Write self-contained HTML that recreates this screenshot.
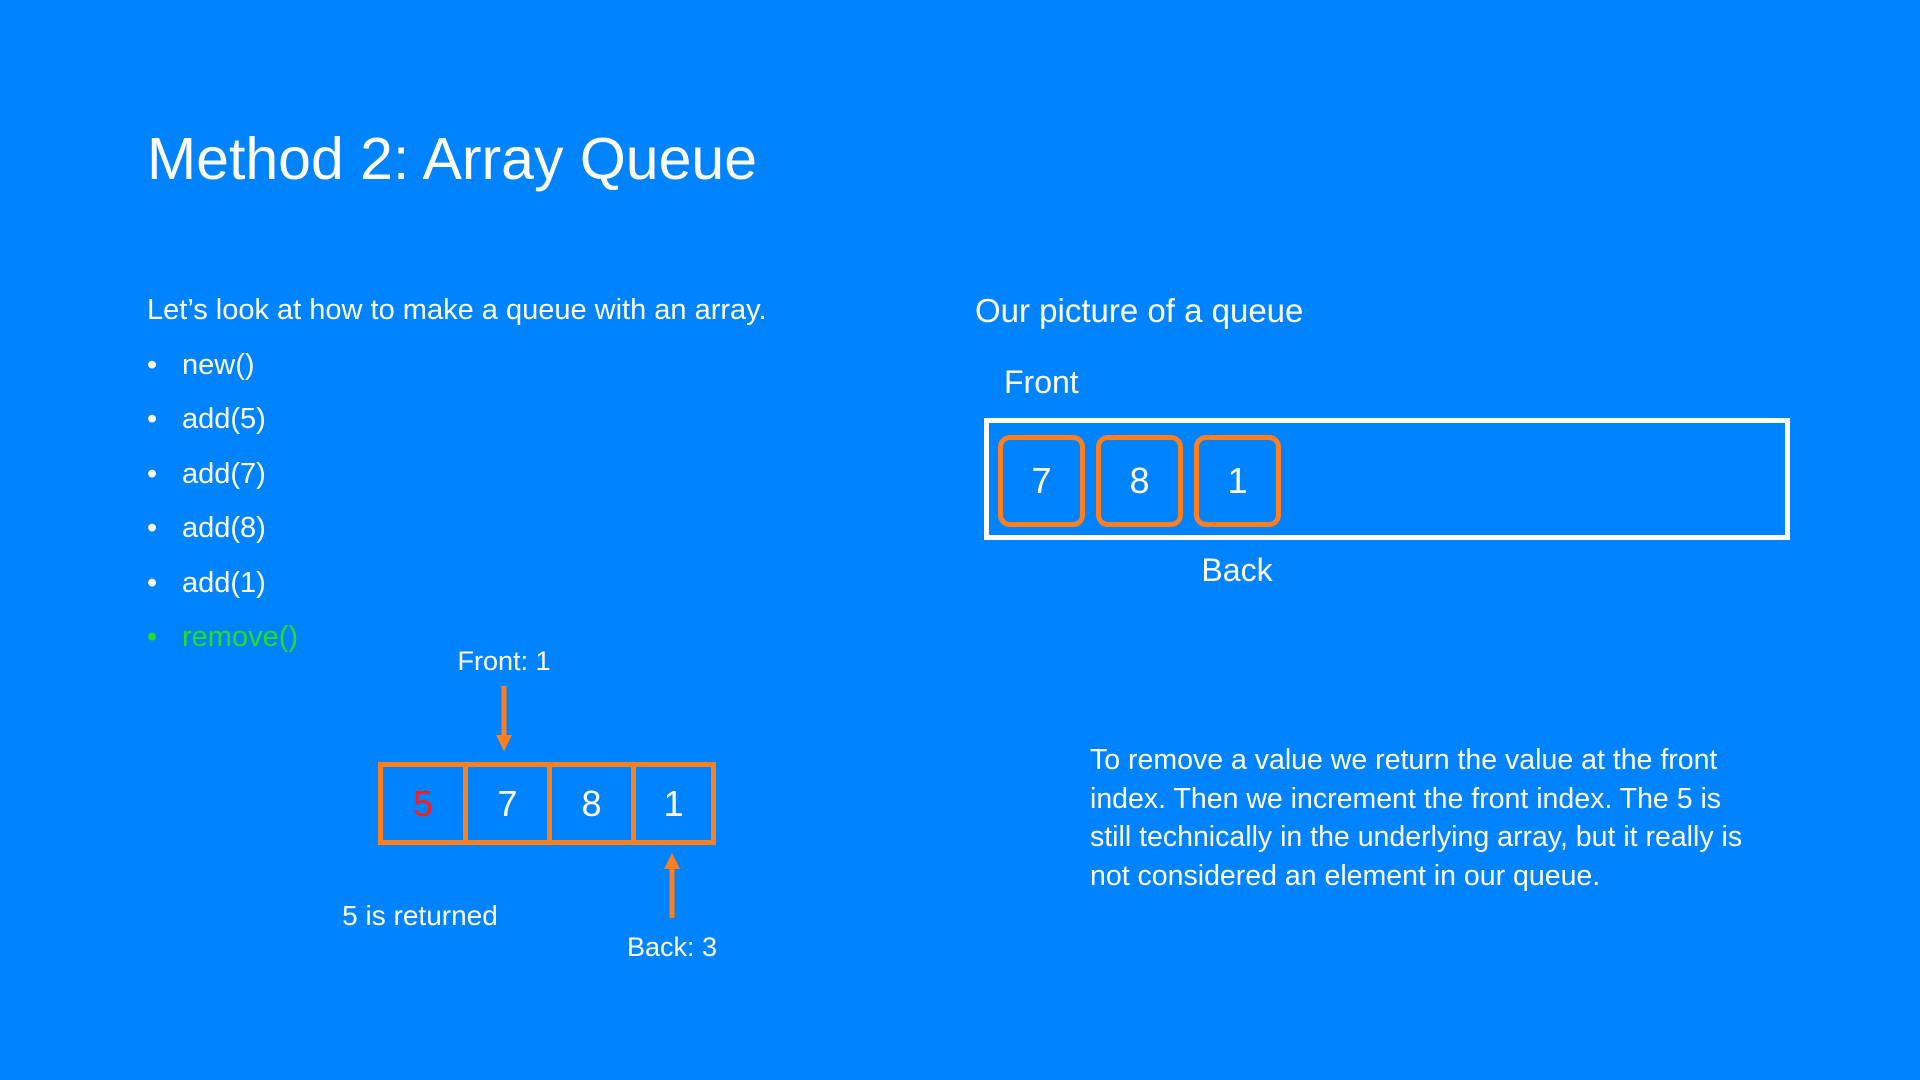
<!DOCTYPE html>
<html><head><meta charset="utf-8"><style>
body{margin:0;width:1920px;height:1080px;background:#0083ff;overflow:hidden;font-family:"Liberation Sans",sans-serif;color:#fff;position:relative}
.a{position:absolute;white-space:nowrap;line-height:1}
.b{position:absolute;left:182px;white-space:nowrap;line-height:1;font-size:29px}
.d{position:absolute;left:147px;white-space:nowrap;line-height:1;font-size:29px}
.box{position:absolute;border:5px solid #ff7f1e;border-radius:12px;box-sizing:border-box;width:87px;height:92px;text-align:center;line-height:82px;font-size:36px}
.cell{position:absolute;top:762px;height:83px;box-sizing:border-box;border:5px solid #ff7f1e;text-align:center;line-height:73px;font-size:36px}
</style></head><body>
<div class="a" style="left:147px;top:130px;font-size:59px">Method 2: Array Queue</div>
<div class="a" style="left:147px;top:296px;font-size:29px">Let’s look at how to make a queue with an array.</div>
<div class="d" style="top:351px">•</div><div class="b" style="top:351px">new()</div>
<div class="d" style="top:405px">•</div><div class="b" style="top:405px">add(5)</div>
<div class="d" style="top:460px">•</div><div class="b" style="top:460px">add(7)</div>
<div class="d" style="top:514px">•</div><div class="b" style="top:514px">add(8)</div>
<div class="d" style="top:569px">•</div><div class="b" style="top:569px">add(1)</div>
<div class="d" style="top:623px;color:#22e022">•</div><div class="b" style="top:623px;color:#22e022">remove()</div>

<div class="a" style="left:975px;top:294px;font-size:33px">Our picture of a queue</div>
<div class="a" style="left:1004px;top:366px;font-size:32px">Front</div>
<div style="position:absolute;left:984px;top:418px;width:806px;height:122px;border:5px solid #fff;box-sizing:border-box"></div>
<div class="box" style="left:998px;top:435px">7</div>
<div class="box" style="left:1096px;top:435px">8</div>
<div class="box" style="left:1194px;top:435px">1</div>
<div class="a" style="left:1237px;top:554px;font-size:32px;transform:translateX(-50%)">Back</div>

<div class="a" style="left:504px;top:648px;font-size:27px;transform:translateX(-50%)">Front: 1</div>
<svg style="position:absolute;left:0;top:0" width="1920" height="1080">
<line x1="504" y1="686" x2="504" y2="738" stroke="#ff7f1e" stroke-width="5"/>
<polygon points="496,735 512,735 504,751" fill="#ff7f1e"/>
<line x1="672" y1="918" x2="672" y2="866" stroke="#ff7f1e" stroke-width="5"/>
<polygon points="664,869 680,869 672,853" fill="#ff7f1e"/>
</svg>
<div class="cell" style="left:378px;width:90px;color:#ff1a1a">5</div>
<div class="cell" style="left:463px;width:89px">7</div>
<div class="cell" style="left:547px;width:89px">8</div>
<div class="cell" style="left:631px;width:85px">1</div>
<div class="a" style="left:420px;top:902px;font-size:28px;transform:translateX(-50%)">5 is returned</div>
<div class="a" style="left:672px;top:934px;font-size:27px;transform:translateX(-50%)">Back: 3</div>

<div style="position:absolute;left:1090px;top:741px;width:660px;font-size:28.5px;line-height:38.5px">To remove a value we return the value at the front index. Then we increment the front index. The 5 is still technically in the underlying array, but it really is not considered an element in our queue.</div>
</body></html>
